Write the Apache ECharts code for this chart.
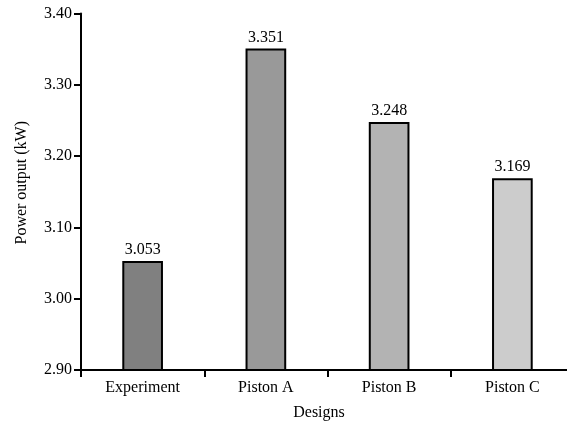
<!DOCTYPE html>
<html>
<head>
<meta charset="utf-8">
<script src="https://cdn.jsdelivr.net/npm/echarts@6/dist/echarts.min.js"></script>
<style>
  html, body { margin: 0; padding: 0; background: #fff; }
  #chart { width: 567px; height: 421px; }
</style>
</head>
<body>
<div id="chart"></div>
<script>
// Power output per design
const designs = ['Experiment', 'Piston A', 'Piston B', 'Piston C'];
const powerOutput = [3.053, 3.351, 3.248, 3.169];
const barColors = ['#808080', '#999999', '#b3b3b3', '#cccccc'];
const yTicks = { min: 2.9, max: 3.4, interval: 0.1 };

const font = '"Liberation Serif", "Times New Roman", serif';
const chart = echarts.init(document.getElementById('chart'));

chart.setOption({
  animation: false,
  grid: { left: 81, top: 13.5, width: 493, height: 356.5, outerBoundsMode: 'none' },
  xAxis: {
    type: 'category',
    data: designs,
    name: 'Designs',
    nameLocation: 'middle',
    nameGap: 35,
    nameTextStyle: { fontFamily: font, fontSize: 16, color: '#000', padding: [0, 17, 0, 0] },
    axisLine: { lineStyle: { color: '#000', width: 2 } },
    axisTick: { show: true, length: 7, lineStyle: { color: '#000', width: 2 } },
    axisLabel: { fontFamily: font, fontSize: 16, color: '#000', margin: 10 },
    splitLine: { show: false }
  },
  yAxis: {
    type: 'value',
    min: yTicks.min,
    max: yTicks.max,
    interval: yTicks.interval,
    name: 'Power output (kW)',
    nameLocation: 'middle',
    nameGap: 51,
    nameTextStyle: { fontFamily: font, fontSize: 16, color: '#000', padding: [0, 0, 0, 18] },
    axisLine: { show: true, lineStyle: { color: '#000', width: 2 } },
    axisTick: { show: true, length: 7, lineStyle: { color: '#000', width: 2 } },
    axisLabel: {
      fontFamily: font, fontSize: 16, color: '#000', margin: 9,
      formatter: v => v.toFixed(2)
    },
    splitLine: { show: false }
  },
  series: [{
    type: 'bar',
    barWidth: '33%',
    data: powerOutput.map((v, i) => ({
      value: v,
      itemStyle: { color: barColors[i], borderColor: '#000', borderWidth: 2 }
    })),
    label: {
      show: true,
      position: 'top',
      distance: 3,
      fontFamily: font,
      fontSize: 16,
      color: '#000',
      formatter: p => p.value.toFixed(3)
    }
  }]
});
</script>
</body>
</html>
